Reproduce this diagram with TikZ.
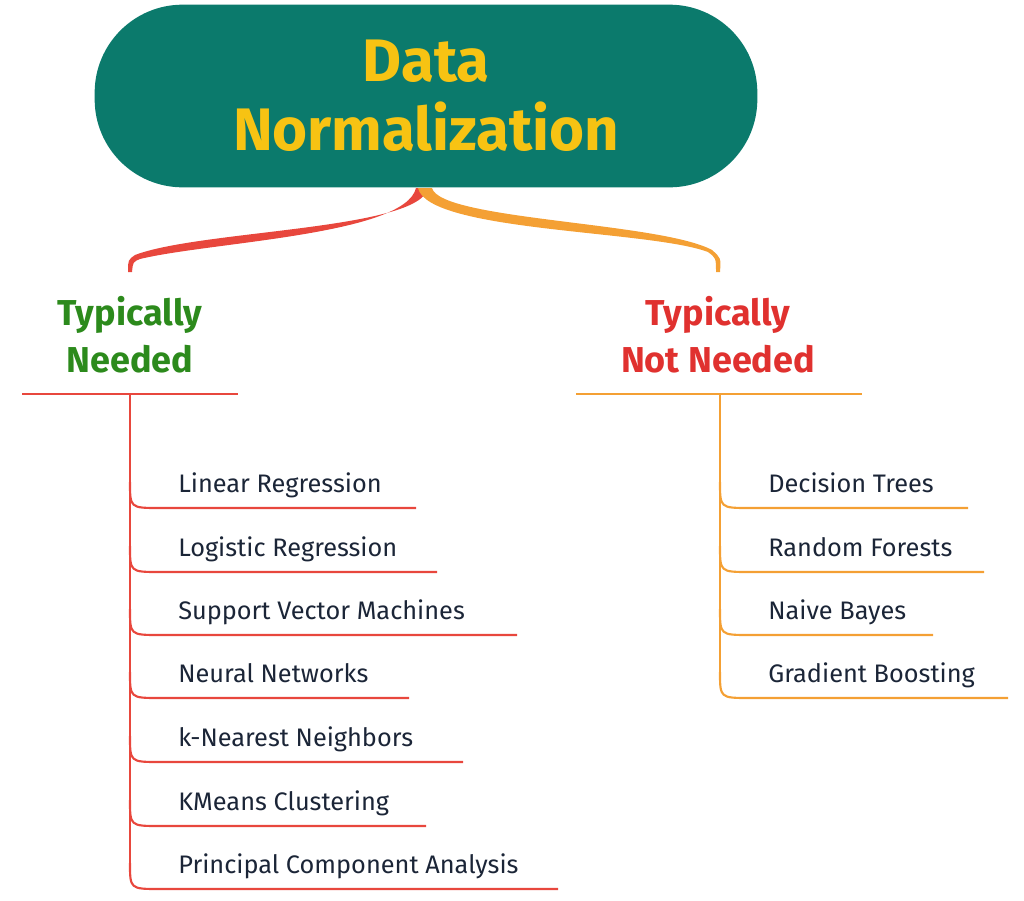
\documentclass[tikz,border=0pt]{standalone}
\usepackage{fontspec}
\setmainfont{Fira Sans}
\definecolor{teal1}{HTML}{0B7A6C}
\definecolor{gold1}{HTML}{F7C313}
\definecolor{red1}{HTML}{E8473D}
\definecolor{org1}{HTML}{F4A034}
\definecolor{grn1}{HTML}{2C8A1C}
\definecolor{hred}{HTML}{E0312F}
\definecolor{ink}{HTML}{1B2537}
\begin{document}
\begin{tikzpicture}[x=0.75pt,y=-0.75pt,
  item/.style={anchor=base west,text=ink,font=\fontsize{19}{22}\selectfont,inner sep=0pt},
  head/.style={align=center,font=\fontsize{27}{35}\selectfont\bfseries},
  lline/.style={red1,line width=1.6pt},
  rline/.style={org1,line width=1.6pt}]
\useasboundingbox (0,0) rectangle (1024,900);
\node[fill=teal1,rounded corners=66pt,minimum width=497pt,minimum height=137pt,text=gold1,
  font=\fontsize{45}{52}\selectfont\bfseries,align=center] (root) at (426,96) {Data\\Normalization};
\fill[red1] (428,188) .. controls (420,230) and (200,230) .. (135,255) .. controls (128,260) .. (128,272)
  -- (132,272) .. controls (133,262) .. (140,259) .. controls (210,242) and (405,235) .. (416,188) -- cycle;
\fill[org1] (418,188) .. controls (428,232) and (650,230) .. (708,252) .. controls (716,258) .. (716,272)
  -- (720,272) .. controls (721,258) .. (712,250) .. controls (660,222) and (440,220) .. (432,188) -- cycle;
\node[head,text=grn1] (lh) at (130,335) {Typically\\Needed};
\node[head,text=hred] (rh) at (718,335) {Typically\\Not Needed};
\draw[lline] (22,394) -- (238,394);
\draw[rline] (576,394) -- (862,394);
\draw[lline] (130,394) -- (130,865);
\draw[rline] (720,394) -- (720,674);
\foreach \t/\y/\e [count=\i] in {Linear Regression/508/416,Logistic Regression/572/437,Support Vector Machines/635/517,Neural Networks/698/409,k-Nearest Neighbors/762/463,KMeans Clustering/826/426,Principal Component Analysis/889/558}{
  \node[item] (l\i) at (178,\y-16) {\t};
  \draw[lline] (130,\y-26) .. controls (130,\y) .. (160,\y) -- (\e,\y);
}
\foreach \t/\y/\e [count=\i] in {Decision Trees/508/968,Random Forests/572/984,Naive Bayes/635/933,Gradient Boosting/698/1008}{
  \node[item] (r\i) at (768,\y-16) {\t};
  \draw[rline] (720,\y-26) .. controls (720,\y) .. (750,\y) -- (\e,\y);
}
\end{tikzpicture}
\end{document}
